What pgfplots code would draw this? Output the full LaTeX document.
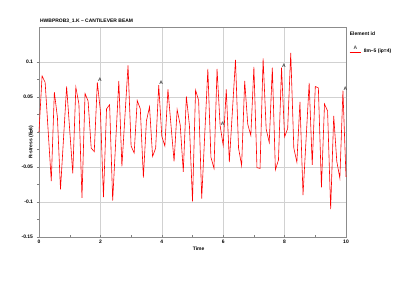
\documentclass[border=0pt]{standalone}
\usepackage{pgfplots}
\pgfplotsset{compat=1.18}
\usepackage{fontspec}
\setmainfont{Liberation Sans}
\newcommand{\fs}{\fontsize{5}{6}\selectfont}
\begin{document}
\begin{tikzpicture}
\begin{axis}[
  at={(0,0)}, anchor=south west,
  scale only axis, width=307bp, height=210bp,
  xmin=0, xmax=10, ymin=-0.15, ymax=0.15,
  xtick={0,2,4,6,8,10},
  ytick={-0.15,-0.1,-0.05,0,0.05,0.1},
  minor x tick num=1, minor y tick num=1,
  grid=major,
  major grid style={color=black!18, line width=0.5pt},
  axis line style={color=black!45, line width=0.6pt},
  x tick style={color=black!50, line width=0.4pt},
  y tick style={color=black!50, line width=0.4pt},
  xtick pos=bottom, ytick pos=left,
  ytick align=outside, xtick align=inside,
  major tick length=2.5pt, minor tick length=1.6pt,
  tick label style={font=\fs\bfseries},
  /pgf/number format/assume math mode=true,
  yticklabel style={/pgf/number format/fixed, /pgf/number format/precision=2},
  xlabel={Time}, ylabel={R-stress (E-6)},
  label style={font=\fs\bfseries},
  xlabel style={at={(axis description cs:0.52,0)}, yshift=-6pt},
  ylabel style={at={(axis description cs:0,0.45)}, yshift=2pt},
  clip=false,
  legend style={at={(axis description cs:1.01,0.91)}, anchor=north west, draw=none, fill=none, font=\fs\bfseries, inner sep=0pt, row sep=0pt},
  legend cell align=left,
]
\addplot[red, line width=0.6pt, mark=none,
  legend image code/.code={\draw[red, line width=0.6pt] (0cm,0cm) -- (0.42cm,0cm); \node[font=\fs\bfseries, text=black!70, inner sep=0pt, anchor=south] at (0.21cm,0.02cm) {A};}
] coordinates {
(0.0,0) (0.1,0.080) (0.2,0.071) (0.4,-0.070) (0.5,0.057) (0.6,0.021) (0.7,-0.082)
(0.9,0.065) (1.1,-0.059) (1.2,0.064) (1.3,0.040) (1.4,-0.094) (1.5,0.055) (1.6,0.044)
(1.7,-0.023) (1.8,-0.028) (1.9,0.071) (2.0,0.030) (2.1,-0.093) (2.2,0.033) (2.3,0.039)
(2.4,-0.098) (2.6,0.073) (2.7,-0.049) (2.9,0.095) (3.0,-0.020) (3.1,-0.030) (3.2,0.045)
(3.3,0.033) (3.4,-0.065) (3.5,0.016) (3.6,0.036) (3.7,-0.035) (3.8,-0.023) (3.9,0.067)
(4.0,-0.006) (4.1,-0.020) (4.2,0.061) (4.4,-0.042) (4.5,0.032) (4.6,0.010) (4.7,-0.057)
(4.8,0.051) (4.9,0.009) (5.0,-0.099) (5.1,0.060) (5.2,0.045) (5.3,-0.095) (5.5,0.090)
(5.6,-0.036) (5.7,-0.052) (5.8,0.090) (5.9,0.009) (6.0,-0.019) (6.1,0.061) (6.2,-0.043)
(6.4,0.103) (6.5,-0.023) (6.6,-0.048) (6.7,0.073) (6.8,0.011) (6.9,-0.005) (7.0,0.093)
(7.1,-0.051) (7.2,-0.052) (7.3,0.105) (7.4,0.004) (7.5,-0.015) (7.6,0.092) (7.7,-0.054)
(7.8,-0.040) (7.9,0.092) (8.0,-0.007) (8.1,0.005) (8.2,0.113) (8.3,-0.023) (8.4,-0.043)
(8.5,0.043) (8.6,-0.090) (8.8,0.070) (8.9,-0.047) (9.0,0.065) (9.1,0.063) (9.2,-0.079)
(9.3,0.040) (9.4,0.030) (9.5,-0.110) (9.6,0.023) (9.7,-0.042) (9.8,-0.066) (9.9,0.059)
(10.0,-0.064)
};
\addlegendentry{8m--5 (ip=4)}
\addplot[only marks, mark=text, text mark={A}, text mark as node=true,
  text mark style={font=\fs\bfseries, text=black!75, inner sep=0pt, anchor=south west, xshift=0.5pt, yshift=0.3pt},
  forget plot] coordinates {
(1.9,0.071) (3.9,0.067) (5.9,0.009) (7.9,0.092) (9.9,0.059)
};
\node[font=\fs\bfseries, anchor=south west, inner sep=0pt] at (axis description cs:0.003,1.018) {HWBPROB3\_1.K -- CANTILEVER BEAM};
\node[font=\fs\bfseries, anchor=west, inner sep=0pt] at (axis description cs:1.012,0.97) {Element id};
\end{axis}
\pgfresetboundingbox
\path[use as bounding box] (-39bp,-46bp) rectangle (361bp,237bp);
\end{tikzpicture}
\end{document}
